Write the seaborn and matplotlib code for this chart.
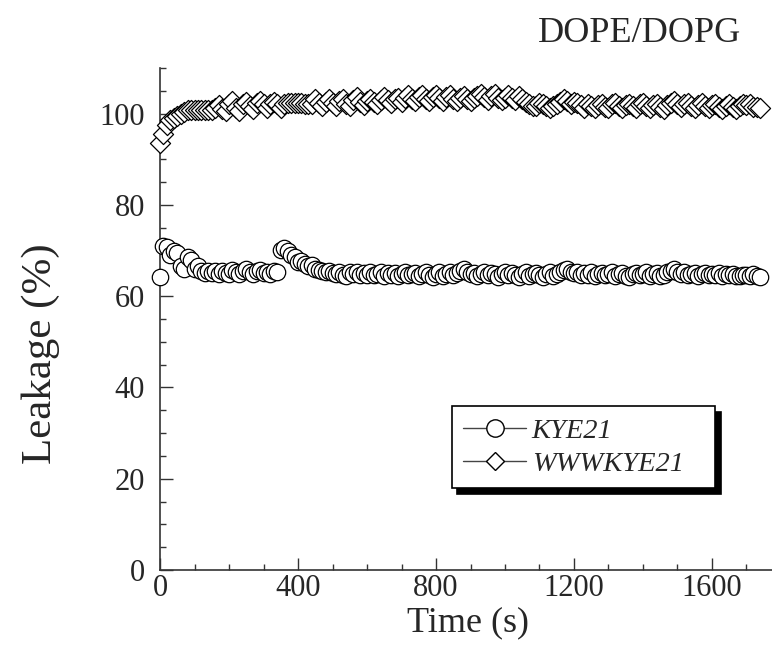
import numpy as np
import pandas as pd
import matplotlib
matplotlib.use("Agg")
import matplotlib.pyplot as plt
from matplotlib.lines import Line2D
from matplotlib.ticker import MultipleLocator
import seaborn as sns

# leakage (%), one reading every 10 s from 0 to 1740 s
time_step = 10
kye21 = [
    64.2, 71.0, 70.8, 69.0, 70.0, 69.5, 66.5, 66.0, 68.5, 68.0,
    66.0, 66.5, 65.5, 65.0, 65.5, 65.0, 65.5, 64.8, 65.5, 65.0,
    64.8, 65.8, 65.2, 64.8, 65.5, 66.0, 65.2, 64.8, 65.5, 65.8,
    65.0, 65.2, 64.8, 65.5, 65.3, 70.2, 70.5, 69.8, 69.0, 68.5,
    67.5, 67.8, 67.0, 66.5, 66.8, 66.0, 65.8, 65.5, 65.2, 65.6,
    65.0, 64.8, 65.3, 64.6, 64.5, 65.2, 64.8, 65.4, 64.6, 65.0,
    64.7, 65.3, 64.6, 64.9, 65.2, 64.5, 65.0, 64.7, 65.1, 64.4,
    64.8, 65.2, 64.6, 64.9, 65.1, 64.5, 64.8, 65.3, 64.6, 64.2,
    64.8, 65.2, 64.5, 64.9, 65.3, 64.6, 65.1, 65.6, 65.9, 65.2,
    64.8, 65.1, 64.5, 64.9, 65.3, 64.6, 65.0, 64.8, 64.3, 64.9,
    65.2, 64.7, 65.1, 64.6, 64.2, 64.8, 65.2, 64.5, 64.9, 65.1,
    64.6, 64.3, 64.9, 65.2, 64.5, 64.8, 65.2, 65.8, 66.0, 65.4,
    65.0, 65.3, 64.6, 65.0, 64.7, 65.2, 64.5, 64.9, 65.1, 64.6,
    64.8, 65.2, 64.4, 64.8, 65.0, 64.5, 64.2, 64.8, 65.1, 64.6,
    64.9, 65.2, 64.5, 64.8, 65.1, 64.4, 64.7, 65.2, 65.6, 65.9,
    65.3, 64.8, 65.2, 64.6, 64.9, 65.1, 64.5, 64.8, 65.0, 64.6,
    64.9, 64.7, 65.0, 64.5, 64.8, 64.6, 64.9, 64.5, 64.4, 64.6,
    64.7, 64.5, 64.8, 64.4, 64.3,
]
wwwkye21 = [
    93.5, 95.5, 97.5, 98.5, 99.0, 99.5, 100.0, 100.3, 100.7, 100.7,
    100.7, 100.7, 100.7, 100.7, 100.9, 100.8, 101.3, 101.8, 101.1, 100.6,
    102.1, 102.8, 101.3, 100.6, 102.0, 102.6, 101.6, 101.0, 102.3, 102.8,
    102.1, 101.3, 102.0, 102.6, 102.0, 101.3, 102.1, 102.4, 102.4, 102.4,
    102.4, 102.4, 102.1, 102.1, 102.1, 103.1, 102.3, 101.6, 102.6, 103.3,
    102.3, 101.6, 102.8, 103.3, 102.1, 101.6, 103.0, 103.6, 102.6, 101.8,
    102.8, 103.3, 102.6, 102.0, 103.0, 103.6, 102.9, 102.3, 103.1, 103.4,
    102.6, 103.5, 104.1, 103.3, 102.7, 103.6, 104.0, 103.3, 102.8, 103.6,
    104.0, 103.4, 102.8, 103.6, 104.0, 103.2, 102.8, 103.5, 103.8, 103.1,
    102.8, 103.4, 103.8, 104.3, 103.6, 103.0, 103.8, 104.3, 103.5, 102.9,
    103.5, 104.1, 103.4, 103.0, 103.8, 103.3, 102.6, 102.0, 101.6, 101.6,
    102.3, 102.0, 101.6, 101.3, 101.6, 102.1, 102.6, 103.3, 102.8, 102.1,
    102.6, 102.3, 101.8, 101.3, 102.0, 101.6, 101.3, 101.8, 102.1, 101.5,
    101.3, 102.1, 102.3, 101.6, 101.2, 101.8, 102.2, 101.6, 101.3, 102.0,
    102.3, 101.6, 101.3, 101.9, 102.2, 101.5, 101.1, 101.8, 102.3, 102.8,
    102.0, 101.4, 102.0, 102.4, 101.6, 101.2, 101.8, 102.3, 101.6, 101.2,
    101.8, 102.1, 101.5, 101.1, 101.7, 102.1, 101.4, 101.1, 101.6, 102.0,
    101.8, 102.1, 101.5, 101.4, 101.3,
]
series_names = ["KYE21", "WWWKYE21"]
series_markers = ["o", "D"]

time_s = np.arange(len(kye21)) * time_step
df = pd.concat([
    pd.DataFrame({"Time": time_s, "Leakage": kye21, "Peptide": series_names[0]}),
    pd.DataFrame({"Time": time_s, "Leakage": wwwkye21, "Peptide": series_names[1]}),
])

sns.set_style("ticks")
plt.rcParams["font.family"] = ["Liberation Serif", "DejaVu Serif"]

fig = plt.figure(figsize=(7.72, 6.6), dpi=100)
ax = fig.add_axes([0.2073, 0.1364, 0.7927, 0.7606])

sizes = {"o": 140, "D": 105}
for name, mk in zip(series_names, series_markers):
    sub = df[df["Peptide"] == name]
    sns.scatterplot(data=sub, x="Time", y="Leakage", marker=mk, s=sizes[mk],
                    color="white", edgecolor="black", linewidth=0.9,
                    legend=False, ax=ax, clip_on=False, zorder=3)

ax.set_xlim(0, 1774)
ax.set_ylim(0, 110)
ax.xaxis.set_major_locator(MultipleLocator(400))
ax.xaxis.set_minor_locator(MultipleLocator(100))
ax.yaxis.set_major_locator(MultipleLocator(20))
ax.yaxis.set_minor_locator(MultipleLocator(5))
ax.tick_params(which="both", direction="in", labelsize=22, width=1, color="#333333")
ax.tick_params(which="major", length=9)
ax.tick_params(which="minor", length=4)
ax.tick_params(axis="y", pad=11)
ax.tick_params(axis="x", pad=3)
sns.despine(ax=ax)
for sp in ["left", "bottom"]:
    ax.spines[sp].set_linewidth(1.2)
    ax.spines[sp].set_color("#333333")

ax.set_xlabel("Time (s)", fontsize=26)
ax.set_ylabel("Leakage (%)", fontsize=31)
ax.xaxis.label.set_va("baseline")
ax.xaxis.set_label_coords(0.503, -0.122)
ax.yaxis.set_label_coords(-0.163, 0.43)

fig.text(0.828, 0.95, "DOPE/DOPG", fontsize=26, ha="center", va="center")

handles = [Line2D([], [], color="#444444", lw=1, marker=mk, markersize=ms,
                  markerfacecolor="white", markeredgecolor="black")
           for mk, ms in zip(series_markers, [12.5, 9.5])]
leg = ax.legend(handles, series_names, loc="lower left",
                bbox_to_anchor=(0.477, 0.163, 0.43, 0.1), mode="expand",
                borderaxespad=0,
                prop={"style": "italic", "size": 20.5}, handlelength=2.2,
                handletextpad=0.2, labelspacing=0.25, borderpad=0.4,
                frameon=True, fancybox=False,
                shadow={"color": "black", "alpha": 1, "ox": 4, "oy": -4},
                edgecolor="black")
leg.get_frame().set_linewidth(1.2)

fig.savefig("out.png", dpi=100)
